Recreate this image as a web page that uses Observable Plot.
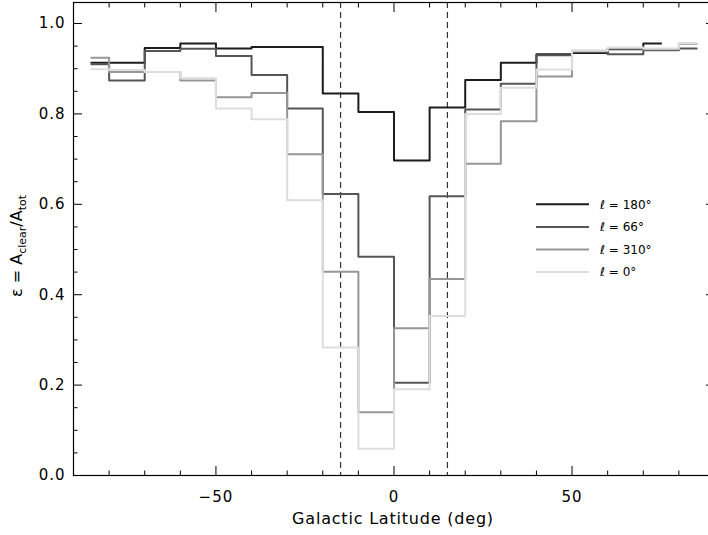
<!DOCTYPE html>
<html><head><meta charset="utf-8">
<script src="https://cdn.jsdelivr.net/npm/d3@7"></script>
<script src="https://cdn.jsdelivr.net/npm/@observablehq/plot@0.6"></script>
<style>
body{margin:0;background:#fff}
#chart svg{display:block}
#chart g[aria-label="x-axis tick label"] text,
#chart g[aria-label="y-axis tick label"] text{letter-spacing:1px}
</style>
</head><body><div id="chart"></div>
<script>
// Galactic latitude bin centres (deg)
const latitudes = [-85,-75,-65,-55,-45,-35,-25,-15,-5,5,15,25,35,45,55,65,75,85];
// epsilon = A_clear / A_tot per longitude (null = no value)
const eps180 = [0.913,0.913,0.946,0.956,0.945,0.948,0.948,0.845,0.804,0.697,0.814,0.875,0.913,0.932,0.935,0.943,0.956,null];
const eps66  = [0.910,0.874,0.939,0.944,0.928,0.886,0.812,0.623,0.484,0.205,0.618,0.810,0.867,0.930,0.937,0.932,0.941,0.945];
const eps310 = [0.924,0.893,0.893,0.874,0.837,0.846,0.711,0.451,0.140,0.326,0.435,0.690,0.784,0.883,0.940,0.945,0.943,0.955];
const eps0   = [0.899,0.897,0.893,0.879,0.812,0.788,0.609,0.283,0.059,0.191,0.353,0.800,0.858,0.898,0.940,0.947,0.945,0.957];
const seriesNames = ["ℓ = 180°","ℓ = 66°","ℓ = 310°","ℓ = 0°"];
const seriesValues = [eps180, eps66, eps310, eps0];
const seriesColors = ["#1c1c1c","#555555","#969696","#dddddd"];
// dashed |b| cut
const cutLatitudes = [-15, 15];
// ticks
const xMajorTicks = [-50, 0, 50];
const xMinorTicks = [-80,-70,-60,-40,-30,-20,-10,10,20,30,40,60,70,80];
const yMajorTicks = [0.0,0.2,0.4,0.6,0.8,1.0];
const yMinorTicks = [0.05,0.1,0.15,0.25,0.3,0.35,0.45,0.5,0.55,0.65,0.7,0.75,0.85,0.9,0.95];
const xLabel = "Galactic Latitude (deg)";

const series = seriesNames.map((name, i) => ({
  name, color: seriesColors[i],
  rows: latitudes.map((lat, j) => ({lat, eps: seriesValues[i][j]})).filter(d => d.eps != null)
}));

const W = 708, H = 535, mL = 73, mR = -6, mT = 2, mB = 60;

const plot = Plot.plot({
  width: W, height: H,
  marginLeft: mL, marginRight: mR, marginTop: mT, marginBottom: mB,
  x: {domain: [-90, 90], range: [mL, W - mR]},
  y: {domain: [0, 1.0465], range: [H - mB, mT]},
  style: {fontFamily: "DejaVu Sans", fontSize: "15px", color: "#000", background: "#fff"},
  marks: [
    Plot.ruleX(cutLatitudes, {stroke: "#333", strokeWidth: 1.2, strokeDasharray: "6,4"}),
    ...series.map(s => Plot.line(s.rows, {x: "lat", y: "eps", stroke: s.color, strokeWidth: 2, curve: "step"})),
    Plot.frame({stroke: "#000", strokeWidth: 1.2}),
    Plot.axisX(xMajorTicks, {anchor: "bottom", tickSize: -9, tickPadding: 24.5, fontSize: 15, label: null, tickFormat: d => d < 0 ? "−" + Math.abs(d) : String(d)}),
    Plot.axisX(xMinorTicks, {anchor: "bottom", tickSize: -4.5, fill: "none", label: null}),
    Plot.axisX(xMajorTicks, {anchor: "top", tickSize: -9, fill: "none", label: null}),
    Plot.axisX(xMinorTicks, {anchor: "top", tickSize: -4.5, fill: "none", label: null}),
    Plot.axisY(yMajorTicks, {anchor: "left", tickSize: -9, tickPadding: 17, fontSize: 15, label: null, tickFormat: d => d.toFixed(1)}),
    Plot.axisY(yMinorTicks, {anchor: "left", tickSize: -4.5, fill: "none", label: null}),
    Plot.axisY(yMajorTicks, {anchor: "right", tickSize: -9, fill: "none", label: null}),
    Plot.axisY(yMinorTicks, {anchor: "right", tickSize: -4.5, fill: "none", label: null})
  ]
});

const svg = d3.select(plot);
// x axis title
svg.append("text").attr("x", 393).attr("y", 524).attr("text-anchor", "middle")
  .attr("font-size", 16).attr("letter-spacing", "0.8px").attr("fill", "#000").text(xLabel);
// y axis title with subscripts
const yl = svg.append("text").attr("transform", "translate(22,246) rotate(-90)")
  .attr("text-anchor", "middle").attr("font-size", 16).attr("fill", "#000");
yl.append("tspan").text("ε = A");
yl.append("tspan").attr("font-size", 11).attr("dy", 4).text("clear");
yl.append("tspan").attr("dy", -4).text("/A");
yl.append("tspan").attr("font-size", 11).attr("dy", 4).text("tot");
// legend
const legX0 = 536, legX1 = 589, legTop = 204.3, legStep = 22.6;
series.forEach((s, i) => {
  const y = legTop + i * legStep;
  svg.append("line").attr("x1", legX0).attr("x2", legX1).attr("y1", y).attr("y2", y)
    .attr("stroke", s.color).attr("stroke-width", 2);
  svg.append("text").attr("x", 600).attr("y", y).attr("dy", "0.35em").attr("text-anchor", "start")
    .attr("font-size", 12).attr("fill", "#000").text(s.name);
});
document.getElementById("chart").appendChild(plot);
</script>
</body></html>
